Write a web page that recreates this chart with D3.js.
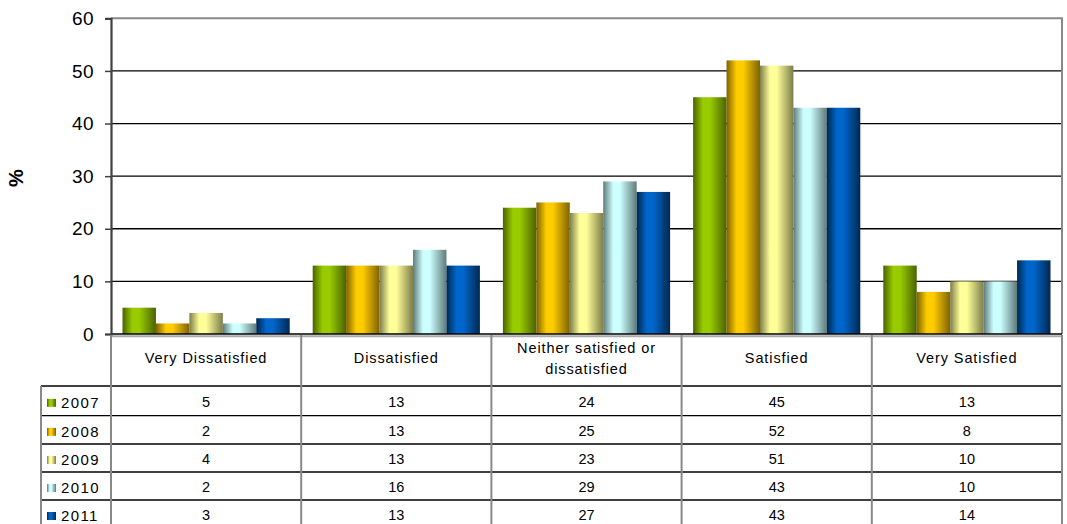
<!DOCTYPE html>
<html>
<head>
<meta charset="utf-8">
<script src="https://cdn.jsdelivr.net/npm/d3@7"></script>
<style>
  html, body { margin: 0; padding: 0; background: #fff; }
  svg { display: block; font-family: "Liberation Sans", Arial, sans-serif; }
</style>
</head>
<body>
<svg id="chart" width="1067" height="524"></svg>
<script>
// Satisfaction survey results by year (%)
const categories = ["Very Dissatisfied", "Dissatisfied", "Neither satisfied or dissatisfied", "Satisfied", "Very Satisfied"];
const categoryLines = [["Very Dissatisfied"], ["Dissatisfied"], ["Neither satisfied or", "dissatisfied"], ["Satisfied"], ["Very Satisfied"]];
const years = ["2007", "2008", "2009", "2010", "2011"];
const values2007 = [5, 13, 24, 45, 13];
const values2008 = [2, 13, 25, 52, 8];
const values2009 = [4, 13, 23, 51, 10];
const values2010 = [2, 16, 29, 43, 10];
const values2011 = [3, 13, 27, 43, 14];
const yTicks = [0, 10, 20, 30, 40, 50, 60];

const seriesValues = [values2007, values2008, values2009, values2010, values2011];
const palette = [
  { light: "#99cc00", dark: "#4a6300" },
  { light: "#ffcc00", dark: "#7d6200" },
  { light: "#ffff99", dark: "#7d7d4a" },
  { light: "#ccffff", dark: "#5f7a7a" },
  { light: "#0066cc", dark: "#00284f" }
];

const svg = d3.select("#chart");
const plotLeft = 111, plotRight = 1062, plotTop = 18.3, plotBottom = 334;
const tableLeft = 41;
const rowEdges = [334, 386, 415.7, 444, 472, 500, 528];

const x = d3.scaleBand().domain(categories).range([plotLeft, plotRight]).padding(0);
const xs = d3.scaleBand().domain(years).range([11.5, x.bandwidth() - 11.5]).padding(0);
const y = d3.scaleLinear().domain([0, 60]).range([plotBottom, plotTop]);

// Cylinder-like shading for each series
const defs = svg.append("defs");
palette.forEach((c, i) => {
  const g = defs.append("linearGradient").attr("id", "grad" + i)
    .attr("x1", "0%").attr("x2", "100%").attr("y1", "0%").attr("y2", "0%");
  [[0, c.dark], [0.3, c.light], [0.5, c.light], [1, c.dark]].forEach(([o, col]) =>
    g.append("stop").attr("offset", o).attr("stop-color", col));
});

// Gridlines
svg.append("g").selectAll("line")
  .data(yTicks.filter(t => t > 0 && t < 60))
  .join("line")
  .attr("x1", plotLeft).attr("x2", plotRight)
  .attr("y1", d => y(d)).attr("y2", d => y(d))
  .attr("stroke", "#000").attr("stroke-width", 1.3);

// Plot border (top and right)
svg.append("path")
  .attr("d", `M${plotLeft},${y(60)}H${plotRight}V${plotBottom}`)
  .attr("fill", "none").attr("stroke", "#888").attr("stroke-width", 2);

// Bars
const groups = svg.append("g").selectAll("g")
  .data(categories)
  .join("g")
  .attr("transform", d => `translate(${x(d)},0)`);
groups.selectAll("rect")
  .data((d, ci) => years.map((yr, si) => ({ yr, si, v: seriesValues[si][ci] })))
  .join("rect")
  .attr("x", d => xs(d.yr))
  .attr("width", xs.bandwidth())
  .attr("y", d => y(d.v))
  .attr("height", d => y(0) - y(d.v))
  .attr("fill", d => `url(#grad${d.si})`);

// Baseline with floor shadow
svg.append("line").attr("x1", plotLeft).attr("x2", plotRight).attr("y1", plotBottom + 2.2).attr("y2", plotBottom + 2.2)
  .attr("stroke", "#aaa").attr("stroke-width", 2);
svg.append("line").attr("x1", plotLeft).attr("x2", plotRight).attr("y1", plotBottom).attr("y2", plotBottom)
  .attr("stroke", "#000").attr("stroke-width", 1.5);

// Y axis
const yAxis = d3.axisLeft(y).tickValues(yTicks).tickSize(6).tickPadding(11);
const ya = svg.append("g").attr("transform", `translate(${plotLeft},0)`).call(yAxis);
ya.select(".domain").attr("stroke", "#404040").attr("stroke-width", 2.2);
ya.selectAll(".tick line").attr("stroke", "#404040").attr("stroke-width", 1.5);
ya.selectAll(".tick text").attr("font-size", 19).attr("letter-spacing", 0.4).attr("fill", "#000")
  .attr("font-family", "'Liberation Sans', Arial, sans-serif");

// Axis title
svg.append("text")
  .attr("transform", `translate(16,${y(30) + 2}) rotate(-90)`)
  .attr("text-anchor", "middle").attr("dy", "0.35em")
  .attr("font-size", 20).attr("font-weight", "bold").text("%");

// Data table: horizontal rules
svg.append("g").selectAll("line")
  .data(rowEdges.slice(1, 6))
  .join("line")
  .attr("x1", tableLeft).attr("x2", plotRight)
  .attr("y1", d => d).attr("y2", d => d)
  .attr("stroke", "#000").attr("stroke-width", 1.3);

// Data table: vertical rules
const colEdges = categories.map(c => x(c)).concat([plotRight]);
svg.append("g").selectAll("line")
  .data(colEdges)
  .join("line")
  .attr("x1", d => d).attr("x2", d => d)
  .attr("y1", plotBottom + 1).attr("y2", 524)
  .attr("stroke", "#888").attr("stroke-width", 2);
svg.append("line")
  .attr("x1", tableLeft).attr("x2", tableLeft)
  .attr("y1", rowEdges[1]).attr("y2", 524)
  .attr("stroke", "#888").attr("stroke-width", 2);

// Category headers
svg.append("g").selectAll("text")
  .data(categories)
  .join("text")
  .attr("text-anchor", "middle")
  .attr("font-size", 14.5).attr("letter-spacing", 0.9)
  .each(function (d, i) {
    const lines = categoryLines[i];
    const mid = 358;
    const y0 = mid - (lines.length - 1) * 10;
    d3.select(this).selectAll("tspan").data(lines).join("tspan")
      .attr("x", x(d) + x.bandwidth() / 2)
      .attr("y", (l, k) => y0 + k * 21)
      .attr("dy", "0.35em")
      .text(l => l);
  });

// Legend keys, year labels and values
years.forEach((yr, si) => {
  const cy = (rowEdges[si + 1] + rowEdges[si + 2]) / 2 + 1.5;
  svg.append("rect")
    .attr("x", 47).attr("y", cy - 3.5).attr("width", 9).attr("height", 8)
    .attr("fill", `url(#grad${si})`);
  svg.append("text")
    .attr("x", 61).attr("y", cy).attr("dy", "0.36em")
    .attr("font-size", 15).attr("letter-spacing", 1.4).text(yr);
  svg.append("g").selectAll("text")
    .data(categories)
    .join("text")
    .attr("x", d => x(d) + x.bandwidth() / 2)
    .attr("y", cy).attr("dy", "0.3em")
    .attr("text-anchor", "middle").attr("font-size", 14.5)
    .text((d, ci) => seriesValues[si][ci]);
});
</script>
</body>
</html>
